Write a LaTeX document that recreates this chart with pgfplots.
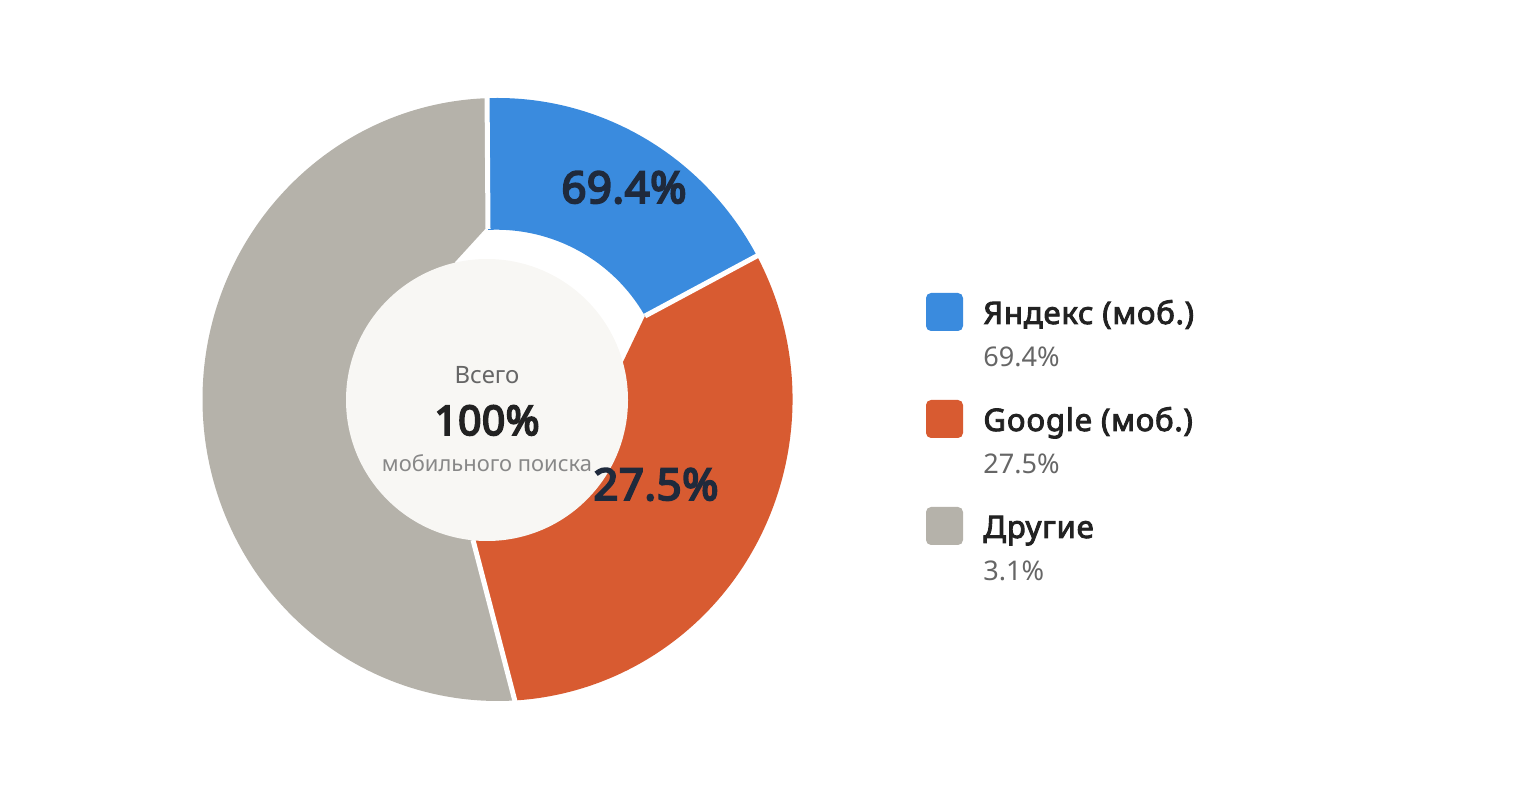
\documentclass[border=0pt]{standalone}
\usepackage{pgfplots}
\pgfplotsset{compat=1.18}
\usepackage{fontspec}
\setmainfont{Noto Sans}[BoldFont={Noto Sans}, BoldFeatures={FakeBold=4.5, LetterSpace=1}]
\newfontfamily\semibold{Noto Sans}[FakeBold=3, LetterSpace=2.5]
\usetikzlibrary{calc}

\definecolor{cblue}{HTML}{3A8BDE}
\definecolor{corange}{HTML}{D85B31}
\definecolor{cgray}{HTML}{B5B2AA}
\definecolor{cdisc}{HTML}{F8F7F4}
\definecolor{cdark}{HTML}{1F2A3C}
\definecolor{ctext}{HTML}{222222}
\definecolor{cmuted}{HTML}{666666}
\definecolor{clight}{HTML}{888888}

% ring boundaries as drawn, degrees clockwise from 12 o'clock
\def\tA{-2.0}   % Другие | Яндекс
\def\tB{61.3}   % Яндекс | Google
\def\tC{176.6}  % Google | Другие
\pgfmathsetmacro\aA{90-\tA}
\pgfmathsetmacro\aB{90-\tB}
\pgfmathsetmacro\aC{90-\tC}
\pgfmathsetmacro\aCC{450-\tC}
% outer radii (1 px = 0.5bp): 295 px wide, 301.5 px high
\def\rx{147.5bp}
\def\ry{150.75bp}

\begin{document}
\begin{tikzpicture}
\begin{axis}[
  hide axis, scale only axis,
  width=761.5bp, height=400bp,
  xmin=0, xmax=1523, ymin=0, ymax=800,
  y dir=reverse, clip=false,
]
\path (axis cs:0,0) rectangle (axis cs:1523,800);

% Другие
\fill[cgray] ($(axis cs:497.5,399.5)+(\aA:{\rx} and {\ry})$)
  arc[start angle=\aA, end angle=\aCC, x radius=\rx, y radius=\ry]
  -- (axis cs:473,540) -- (axis cs:487,400) -- (axis cs:455,262)
  -- (axis cs:487,227) -- cycle;
% Яндекс
\fill[cblue] ($(axis cs:497.5,399.5)+(\aA:{\rx} and {\ry})$)
  arc[start angle=\aA, end angle=\aB, x radius=\rx, y radius=\ry]
  -- (axis cs:645,316)
  arc[start angle=29.7, end angle=92.8, radius=85.5bp] -- cycle;
% Google
\fill[corange] ($(axis cs:497.5,399.5)+(\aB:{\rx} and {\ry})$)
  arc[start angle=\aB, end angle=\aC, x radius=\rx, y radius=\ry]
  -- (axis cs:473,540) -- (axis cs:487,400) -- (axis cs:623,362)
  -- (axis cs:645,316) -- cycle;

% gaps between slices
\draw[white, line width=2.5bp] (axis cs:487,88) -- (axis cs:488,229);
\draw[white, line width=2.5bp] (axis cs:645,316) -- (axis cs:768,250);
\draw[white, line width=2.5bp] (axis cs:473,540) -- (axis cs:517,709);

% centre disc
\fill[cdisc] (axis cs:487,400) circle[radius=70.5bp];
\node[anchor=base, text=cmuted, font=\fontsize{12}{14}\selectfont] at (axis cs:487,384) {Всего};
\node[anchor=base, text=ctext, font=\bfseries\fontsize{20.5}{23}\selectfont] at (axis cs:487,435) {100\%};
\node[anchor=base, text=clight, font=\fontsize{11}{13}\selectfont] at (axis cs:487,472) {мобильного поиска};

% slice labels
\node[anchor=base, text=cdark, font=\bfseries\fontsize{22}{26}\selectfont] at (axis cs:624,203) {69.4\%};
\node[anchor=base, text=cdark, font=\bfseries\fontsize{22}{26}\selectfont] at (axis cs:656,500) {27.5\%};

% legend
\fill[cblue, rounded corners=2.5bp] (axis cs:926,293) rectangle (axis cs:963,331);
\fill[corange, rounded corners=2.5bp] (axis cs:926,400) rectangle (axis cs:963,438);
\fill[cgray, rounded corners=2.5bp] (axis cs:926,507) rectangle (axis cs:963,545);
\node[anchor=base west, inner sep=0pt, text=ctext, font=\semibold\fontsize{15.6}{18}\selectfont] at (axis cs:983,324) {Яндекс (моб.)};
\node[anchor=base west, inner sep=0pt, text=cmuted, font=\fontsize{13.6}{16}\selectfont] at (axis cs:983,367) {69.4\%};
\node[anchor=base west, inner sep=0pt, text=ctext, font=\semibold\fontsize{15.6}{18}\selectfont] at (axis cs:983,431) {Google (моб.)};
\node[anchor=base west, inner sep=0pt, text=cmuted, font=\fontsize{13.6}{16}\selectfont] at (axis cs:983,474) {27.5\%};
\node[anchor=base west, inner sep=0pt, text=ctext, font=\semibold\fontsize{15.6}{18}\selectfont] at (axis cs:983,538) {Другие};
\node[anchor=base west, inner sep=0pt, text=cmuted, font=\fontsize{13.6}{16}\selectfont] at (axis cs:983,581) {3.1\%};
\end{axis}
\end{tikzpicture}
\end{document}
